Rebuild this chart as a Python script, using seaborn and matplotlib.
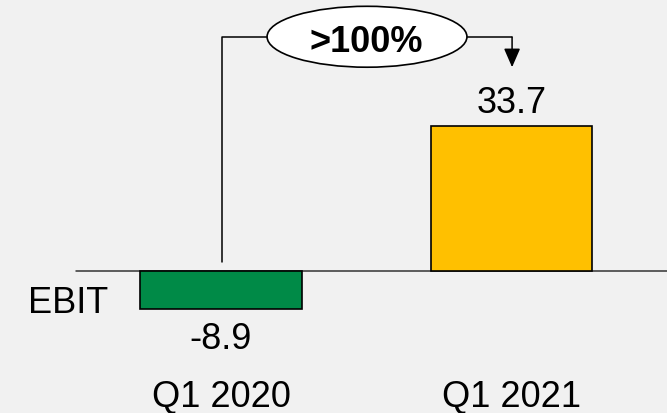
import numpy as np
import pandas as pd
import matplotlib
matplotlib.use('Agg')
from matplotlib import pyplot as plt
from matplotlib.patches import Ellipse
import seaborn as sns

# data
quarters = ['Q1 2020', 'Q1 2021']
ebit = [-8.9, 33.7]
value_labels = ['-8.9', '33.7']
bar_colors = ['#008A47', '#FFC000']
row_label = 'EBIT'
change_label = '>100%'

sns.set_style('white')
plt.rcParams['font.family'] = ['Liberation Sans', 'DejaVu Sans']
plt.rcParams['text.color'] = 'black'
bg = '#f1f1f1'

df = pd.DataFrame({'quarter': quarters, 'ebit': ebit})

fig = plt.figure(figsize=(6.67, 4.14), dpi=100, facecolor=bg)
ax = fig.add_axes([0, 0, 1, 1], facecolor=bg)

sns.barplot(data=df, x='quarter', y='ebit', hue='quarter', palette=bar_colors,
            legend=False, width=0.557, edgecolor='black', linewidth=1.2,
            saturation=1, ax=ax)

ax.set_xlim(-0.7608, 1.5353)
ax.set_ylim(-33.2, 63.3)
ax.axis('off')

# baseline
ax.axhline(0, xmin=76 / 667, xmax=1, color='#333333', lw=1.1, zorder=0)

fs = 26
# value labels
ax.text(0, -18.1, value_labels[0], ha='center', va='baseline', fontsize=fs)
ax.text(1, 36.9, value_labels[1], ha='center', va='baseline', fontsize=fs)
# category labels
for i, q in enumerate(quarters):
    ax.text(i, -31.6, q, ha='center', va='baseline', fontsize=fs)
ax.text(-0.664, -9.7, row_label, ha='left', va='baseline', fontsize=fs)

# bracket with growth bubble
ex, ey, ew, eh = 0.5026, 54.5, 0.688, 14.2
ax.plot([0.003, 0.003, ex - ew / 2], [2.0, 54.4, 54.4], color='black', lw=1.1)
ax.plot([ex + ew / 2, 1.002], [54.4, 54.4], color='black', lw=1.1)
ax.annotate('', xy=(1.002, 47.4), xytext=(1.002, 54.4),
            arrowprops=dict(arrowstyle='-|>,head_length=1.15,head_width=0.5',
                            mutation_scale=10, color='black', lw=1.1,
                            shrinkA=0, shrinkB=0))
ax.add_patch(Ellipse((ex, ey), ew, eh, facecolor='white', edgecolor='black',
                     lw=1.2, zorder=3))
ax.text(0.501, 51.2, change_label, ha='center', va='baseline', fontsize=fs,
        fontweight='bold', zorder=4)

fig.savefig('out.png', dpi=100, facecolor=bg)
